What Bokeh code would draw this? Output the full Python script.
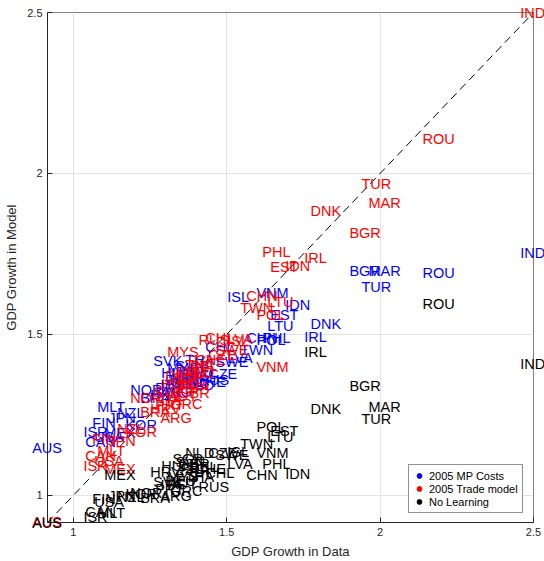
from bokeh.plotting import figure
from bokeh.models import Range1d, FixedTicker, Legend, LegendItem
from bokeh.core.properties import value
from bokeh.embed import file_html
from bokeh.resources import INLINE

countries = ["AUS", "ISR", "CAN", "USA", "MLT", "FIN", "JPN", "NZL", "MEX", "KOR",
             "HRV", "NOR", "SVK", "HUN", "MYS", "CZE", "RUS", "CHL", "NLD", "SGP",
             "GBR", "ISL", "LVA", "CHN", "TWN", "VNM", "POL", "PHL", "LTU", "EST",
             "IDN", "IRL", "DNK", "BGR", "TUR", "MAR", "ROU", "IND", "DEU", "FRA",
             "ITA", "ESP", "PRT", "GRC", "AUT", "BEL", "CHE", "SWE", "BRA", "ARG",
             "SVN", "THA"]

data_growth = [0.866, 1.033, 1.039, 1.068, 1.078, 1.062, 1.114, 1.143, 1.101, 1.170,
               1.251, 1.186, 1.261, 1.287, 1.306, 1.440, 1.408, 1.430, 1.365, 1.323,
               1.342, 1.502, 1.502, 1.564, 1.544, 1.597, 1.597, 1.616, 1.632, 1.642,
               1.691, 1.753, 1.773, 1.900, 1.939, 1.962, 2.138, 2.457, 1.300, 1.349,
               1.284, 1.333, 1.267, 1.316, 1.310, 1.381, 1.398, 1.463, 1.218, 1.284,
               1.333, 1.365]

mp_costs = [1.146, 1.198, 1.167, 1.183, 1.276, 1.226, 1.242, 1.257, 1.195, 1.220,
            1.313, 1.328, 1.418, 1.381, 1.397, 1.378, 1.359, 1.462, 1.344, 1.350,
            1.359, 1.617, 1.428, 1.490, 1.452, 1.629, 1.483, 1.490, 1.527, 1.561,
            1.592, 1.493, 1.533, 1.697, 1.648, 1.697, 1.691, 1.753, 1.359, 1.366,
            1.344, 1.384, 1.335, 1.353, 1.366, 1.384, 1.353, 1.415, 1.304, 1.322,
            1.403, 1.421]

trade_model = [0.918, 1.093, 1.124, 1.108, 1.139, 1.174, 1.170, 1.205, 1.081, 1.198,
               1.267, 1.304, 1.322, 1.347, 1.446, 1.437, 1.483, 1.490, 1.381, 1.366,
               1.319, 1.480, 1.487, 1.620, 1.583, 1.400, 1.561, 1.756, 1.601, 1.710,
               1.713, 1.738, 1.883, 1.815, 1.967, 1.908, 2.106, 2.500, 1.372, 1.341,
               1.297, 1.335, 1.282, 1.285, 1.310, 1.403, 1.421, 1.452, 1.260, 1.242,
               1.384, 1.406]

no_learning = [0.916, 0.932, 0.950, 0.981, 0.947, 0.988, 0.997, 0.994, 1.062, 1.006,
               1.074, 1.009, 1.043, 1.090, 1.056, 1.133, 1.025, 1.071, 1.133, 1.112,
               1.099, 1.136, 1.099, 1.062, 1.161, 1.133, 1.214, 1.099, 1.183, 1.201,
               1.068, 1.446, 1.267, 1.341, 1.236, 1.276, 1.595, 1.409, 1.046, 1.081,
               1.031, 1.062, 1.019, 1.015, 1.037, 1.087, 1.081, 1.127, 0.991, 0.997,
               1.105, 1.056]

axis_lo = 0.916
axis_hi = 2.5
tick_values = [1, 1.5, 2, 2.5]
tick_labels = ["1", "1.5", "2", "2.5"]
series_names = ["2005 MP Costs", "2005 Trade model", "No Learning"]
series_colors = ["#0000ff", "#ff0000", "#000000"]
series_values = [mp_costs, trade_model, no_learning]

FONT = "Liberation Sans"
AXIS_COLOR = "#262626"

p = figure(width=544, height=561, output_backend="svg", toolbar_location=None,
           x_range=Range1d(axis_lo, axis_hi), y_range=Range1d(axis_lo, axis_hi),
           min_border_left=47, min_border_right=11, min_border_top=12,
           min_border_bottom=38, background_fill_color="white",
           border_fill_color="white", outline_line_color="#808080")

labels_map = dict(zip(tick_values, tick_labels))
for ax in (p.xaxis[0], p.yaxis[0]):
    ax.ticker = FixedTicker(ticks=tick_values)
    ax.major_label_overrides = labels_map
    ax.major_tick_in = 5
    ax.major_tick_out = 0
    ax.minor_tick_line_color = None
    ax.axis_line_color = AXIS_COLOR
    ax.major_tick_line_color = AXIS_COLOR
    ax.major_label_text_font = FONT
    ax.major_label_text_font_size = "11px"
    ax.major_label_text_color = AXIS_COLOR
    ax.major_label_standoff = 5
    ax.axis_label_text_font = FONT
    ax.axis_label_text_font_size = "13px"
    ax.axis_label_text_font_style = "normal"
    ax.axis_label_text_color = AXIS_COLOR
    ax.axis_label_standoff = 5

p.xaxis[0].axis_label = "GDP Growth in Data"
p.yaxis[0].axis_label = "GDP Growth in Model"

p.xgrid.ticker = FixedTicker(ticks=tick_values)
p.ygrid.ticker = FixedTicker(ticks=tick_values)
p.xgrid.grid_line_color = "#e3e3e3"
p.ygrid.grid_line_color = "#e3e3e3"

# 45-degree reference line
p.line([axis_lo, axis_hi], [axis_lo, axis_hi], line_color="black",
       line_width=1, line_dash="8 5")

# country labels: blue, then red, then black on top (overlay level => not clipped)
for color, vals in zip(series_colors, series_values):
    p.text(x=data_growth, y=vals, text=countries, text_color=color,
           text_font=value(FONT), text_font_size="14.5px", text_align="left",
           text_baseline="middle", level="overlay")

# legend (hidden renderers carry the legend glyphs)
items = []
for name, color, vals in zip(series_names, series_colors, series_values):
    r = p.scatter(x=data_growth[:1], y=vals[:1], size=4, fill_color=color,
                  line_color=color, visible=False)
    items.append(LegendItem(label=name, renderers=[r]))

legend = Legend(items=items, location=(361, 9), label_text_font=FONT,
                label_text_font_size="11px", label_text_color="#000000",
                glyph_width=12, glyph_height=13, label_height=13,
                label_standoff=4, spacing=0, padding=4, margin=0,
                border_line_color=AXIS_COLOR, border_line_width=1,
                background_fill_color="white", background_fill_alpha=1.0)
p.add_layout(legend)

open("out.html", "w").write(file_html(p, INLINE))
